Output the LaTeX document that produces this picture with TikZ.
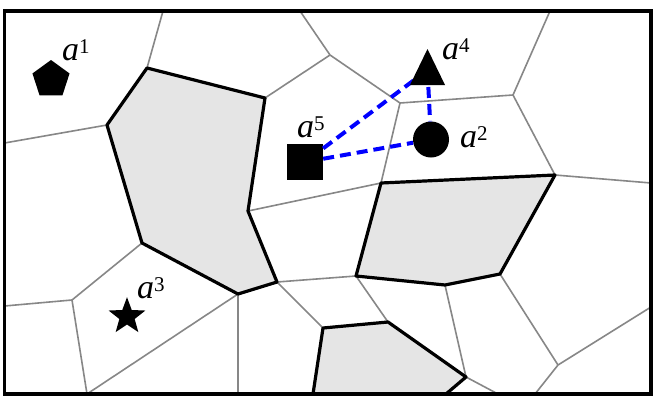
\documentclass[tikz,border=0pt]{standalone}
\usepackage{fontspec}
\setmainfont{Liberation Serif}
\usetikzlibrary{shapes.geometric}
\newcommand\agentlabel[1]{a\raisebox{7pt}{\fontsize{21}{24}\selectfont\upshape #1}}
\begin{document}
\begin{tikzpicture}[x=1pt,y=-1pt,
  cell/.style={draw=black!47, line width=1.6pt},
  hole/.style={fill=black!10, draw=black, line width=3.2pt, line join=round},
  frame/.style={draw=black, line width=3.6pt},
  link/.style={draw=blue, line width=4pt, dash pattern=on 11pt off 6pt},
  agent/.style={fill=black, draw=none, inner sep=0pt},
  lab/.style={anchor=base west, inner sep=0pt, font=\fontsize{34}{40}\selectfont\itshape}]
\useasboundingbox (0,0) rectangle (658,407);
\fill[white] (0,0) rectangle (658,407);
% vertices
\coordinate (P1) at (147,68);
\coordinate (P2) at (265,98);
\coordinate (P3) at (107,125);
\coordinate (P4) at (142,243);
\coordinate (P5) at (238,294);
\coordinate (P6) at (277,282);
\coordinate (P7) at (248,211);
\coordinate (Q1) at (330,55);
\coordinate (Q2) at (400,103);
\coordinate (Q3) at (513,95);
\coordinate (R1) at (381,183);
\coordinate (R2) at (555,175);
\coordinate (R3) at (500,274);
\coordinate (R4) at (445,285);
\coordinate (R5) at (356,276);
\coordinate (B1) at (323,328);
\coordinate (B2) at (388,322);
\coordinate (B3) at (466,377);
\coordinate (B4) at (446,394);
\coordinate (B5) at (313,394);
\coordinate (V1) at (72,300);
\coordinate (V2) at (558,365);
% shaded cells
\fill[black!10] (P1) -- (P2) -- (P7) -- (P6) -- (P5) -- (P4) -- (P3) -- cycle;
\fill[black!10] (R1) -- (R2) -- (R3) -- (R4) -- (R5) -- cycle;
\fill[black!10] (B1) -- (B2) -- (B3) -- (B4) -- (B5) -- cycle;
% gray cell edges
\draw[cell] (163,11) -- (P1);
\draw[cell] (P3) -- (4.5,143);
\draw[cell] (P2) -- (Q1);
\draw[cell] (300,11) -- (Q1);
\draw[cell] (Q1) -- (Q2) -- (Q3);
\draw[cell] (Q3) -- (550,11);
\draw[cell] (Q2) -- (R1);
\draw[cell] (Q3) -- (R2);
\draw[cell] (R2) -- (651,183);
\draw[cell] (P7) -- (R1);
\draw[cell] (P4) -- (V1);
\draw[cell] (V1) -- (4.5,306);
\draw[cell] (V1) -- (87,394);
\draw[cell] (P5) -- (87,394);
\draw[cell] (P5) -- (238,394);
\draw[cell] (P6) -- (R5);
\draw[cell] (P6) -- (B1);
\draw[cell] (R5) -- (B2);
\draw[cell] (R4) -- (B3);
\draw[cell] (B3) -- (498,394);
\draw[cell] (R3) -- (V2);
\draw[cell] (V2) -- (651,307);
\draw[cell] (V2) -- (535,394);
% black outlines
\draw[hole, fill=none] (P1) -- (P2) -- (P7) -- (P6) -- (P5) -- (P4) -- (P3) -- cycle;
\draw[hole, fill=none] (R1) -- (R2) -- (R3) -- (R4) -- (R5) -- cycle;
\draw[hole, fill=none] (B5) -- (B1) -- (B2) -- (B3) -- (B4);
% frame
\draw[frame] (4.5,11) rectangle (651,394);
% agents
\node[agent, regular polygon, regular polygon sides=5, minimum size=39pt] (a1) at (51,79.5) {};
\node[agent, star, star points=5, star point ratio=2.4, minimum size=38.6pt] (a3) at (127,316.5) {};
\node[agent, rectangle, minimum size=36pt] (a5) at (305,162) {};
\node[agent, circle, minimum size=36pt] (a2) at (431,139.5) {};
\coordinate (a4) at (427.5,70);
\draw[link] (a5) -- (a4);
\draw[link] (a5) -- (a2);
\draw[link] (a4) -- (a2);
\fill[black] (410,85) -- (445,85) -- (427.5,49) -- cycle;
% labels
\node[lab] (l1) at (62,60) {\agentlabel{1}};
\node[lab] (l5) at (297,137) {\agentlabel{5}};
\node[lab] (l4) at (442,59) {\agentlabel{4}};
\node[lab] (l2) at (460,147) {\agentlabel{2}};
\node[lab] (l3) at (137,298) {\agentlabel{3}};
\end{tikzpicture}
\end{document}
